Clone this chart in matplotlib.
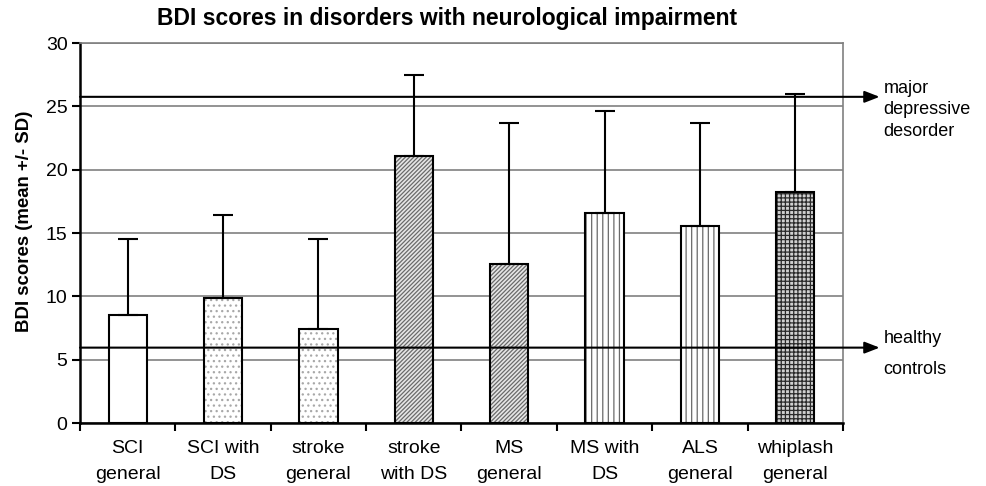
import matplotlib.pyplot as plt
import numpy as np

# data
groups = ['SCI\ngeneral', 'SCI with\nDS', 'stroke\ngeneral', 'stroke\nwith DS',
          'MS\ngeneral', 'MS with\nDS', 'ALS\ngeneral', 'whiplash\ngeneral']
means = [8.5, 9.9, 7.4, 21.1, 12.55, 16.55, 15.55, 18.2]
sds = [6.0, 6.5, 7.1, 6.4, 11.15, 8.1, 8.15, 7.8]
major_depr = 25.75
healthy = 5.95

# pattern per bar (hatch, hatch colour, face colour)
hatches = ['', '...', '...', '////////', '////////', '|||', '|||', '++++']
hatch_colors = ['black', '#a8a8a8', '#a8a8a8', '#6a6a6a', '#6a6a6a', '#6a6a6a', '#6a6a6a', '#2a2a2a']
faces = ['white', 'white', 'white', '#e6e6e6', '#e6e6e6', 'white', 'white', '#d0d0d0']

plt.rcParams['font.family'] = ['Liberation Sans', 'DejaVu Sans']
plt.rcParams['hatch.linewidth'] = 0.9

fig = plt.figure(figsize=(9.87, 4.86), dpi=100)
ax = fig.add_axes([80 / 987, 1 - 423 / 486, (843 - 80) / 987, (423 - 43) / 486])

x = np.arange(len(groups))
w = 0.4

# hatched fill first, then a plain black outline over it
for i in range(len(groups)):
    ax.bar(x[i], means[i], w, color=faces[i], edgecolor=hatch_colors[i],
           hatch=hatches[i], linewidth=0, zorder=2)
ax.bar(x, means, w, facecolor='none', edgecolor='black', linewidth=1.5, zorder=3)

# only the upper half of the SD is shown
ax.errorbar(x, means, yerr=[np.zeros(len(sds)), sds], fmt='none', ecolor='black',
            elinewidth=1.5, capsize=7, capthick=1.5, zorder=3)

# reference lines with arrows running out of the plot
for yv in [major_depr, healthy]:
    ax.annotate('', xy=(1.048, yv), xytext=(0, yv),
                xycoords=('axes fraction', 'data'), textcoords=('axes fraction', 'data'),
                arrowprops=dict(arrowstyle='-|>,head_length=0.9,head_width=0.35',
                                color='black', lw=1.5, shrinkA=0, shrinkB=0),
                annotation_clip=False, zorder=5)

ax.text(1.053, 27.1, 'major\ndepressive\ndesorder', transform=ax.get_yaxis_transform(),
        fontsize=13, va='top', ha='left', linespacing=1.35)
ax.text(1.053, healthy - 0.5, 'healthy\n\ncontrols', transform=ax.get_yaxis_transform(),
        fontsize=13, va='center', ha='left', linespacing=0.9)

ax.set_xlim(-0.5, len(groups) - 0.5)
ax.set_ylim(0, 30)
ax.set_yticks(np.arange(0, 31, 5))
ax.grid(axis='y', color='#808080', linewidth=1.2, zorder=0)
ax.set_axisbelow(True)

ax.set_xticks(x)
ax.set_xticklabels(groups, fontsize=14, linespacing=1.7)
ax.set_xticks(np.arange(-0.5, len(groups), 1), minor=True)
ax.tick_params(axis='x', which='major', length=0, pad=12)
ax.tick_params(axis='x', which='minor', length=6, width=1.5, direction='out')
ax.tick_params(axis='y', length=6, width=1.5, labelsize=14, pad=3)

for s in ['top', 'right']:
    ax.spines[s].set_color('#808080')
    ax.spines[s].set_linewidth(1.2)
for s in ['left', 'bottom']:
    ax.spines[s].set_linewidth(1.8)

ax.set_ylabel('BDI scores (mean +/- SD)', fontsize=13.4, fontweight='bold')
ax.yaxis.set_label_coords(-0.062, 0.53)
fig.text(447 / 987, 1 - 18 / 486, 'BDI scores in disorders with neurological impairment',
         fontsize=16.5, fontweight='bold', ha='center', va='center')

fig.savefig('out.png', dpi=100)
